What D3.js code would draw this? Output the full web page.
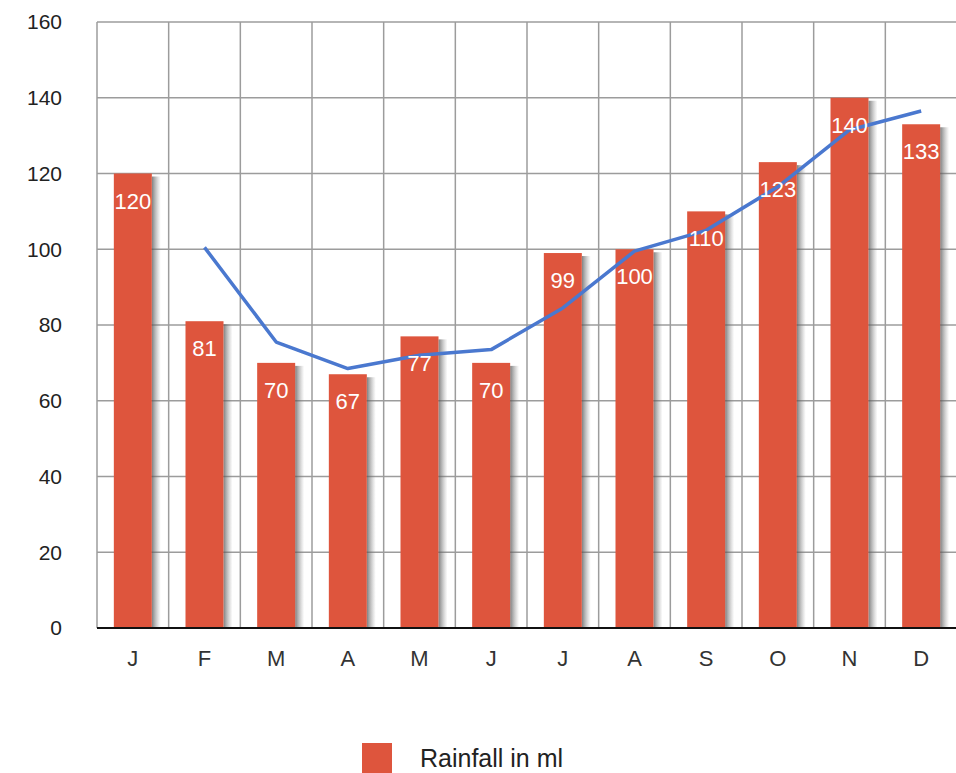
<!DOCTYPE html>
<html>
<head>
<meta charset="utf-8">
<script src="https://d3js.org/d3.v7.min.js"></script>
<style>
  body { margin: 0; background: #fff; }
  text { font-family: "Liberation Sans", Arial, sans-serif; }
</style>
</head>
<body>
<svg width="956" height="773"></svg>
<script>
// data
var months = ["J", "F", "M", "A", "M", "J", "J", "A", "S", "O", "N", "D"];
var rainfall = [120, 81, 70, 67, 77, 70, 99, 100, 110, 123, 140, 133];
// blue trend line, starts at February
var trend = [null, 100.5, 75.5, 68.5, 72, 73.5, 84.5, 99.5, 105, 116.5, 131.5, 136.5];
var yTicks = [0, 20, 40, 60, 80, 100, 120, 140, 160];

var svg = d3.select("svg");
var plotLeft = 97, plotRight = 957, plotTop = 22, plotBottom = 628;

var x = d3.scaleBand().domain(d3.range(months.length)).range([plotLeft, plotRight]);
var y = d3.scaleLinear().domain([0, 160]).range([plotBottom, plotTop]);
var barW = 38;

// shadow gradient
var defs = svg.append("defs");
var g1 = defs.append("linearGradient").attr("id", "shad");
g1.append("stop").attr("offset", "0%").attr("stop-color", "#555").attr("stop-opacity", 0.75);
g1.append("stop").attr("offset", "100%").attr("stop-color", "#888").attr("stop-opacity", 0);

//grid
var grid = svg.append("g");
grid.selectAll("line.h").data(yTicks.filter(function(d){return d > 0})).enter().append("line")
  .attr("x1", plotLeft).attr("x2", plotRight)
  .attr("y1", function(d){return y(d)}).attr("y2", function(d){return y(d)})
  .style("stroke", "#9c9c9c").style("stroke-width", 1.5);
grid.selectAll("line.v").data(d3.range(months.length + 1)).enter().append("line")
  .attr("x1", function(i){return plotLeft + i * x.bandwidth()})
  .attr("x2", function(i){return plotLeft + i * x.bandwidth()})
  .attr("y1", plotTop).attr("y2", plotBottom)
  .style("stroke", "#9c9c9c").style("stroke-width", 1.5);

// y labels
svg.append("g").selectAll("text").data(yTicks).enter().append("text")
  .attr("x", 62).attr("y", function(d){return y(d)})
  .attr("dy", "0.35em")
  .style("text-anchor", "end").style("font-size", "21px").style("fill", "#222")
  .text(function(d){return d});

// bars
var bars = svg.append("g");
bars.selectAll("rect.s").data(rainfall).enter().append("rect")
  .attr("x", function(d, i){return x(i) + x.bandwidth()/2 + barW/2})
  .attr("y", function(d){return y(d) + 3})
  .attr("width", 9)
  .attr("height", function(d){return plotBottom - y(d) - 3})
  .attr("fill", "url(#shad)");
bars.selectAll("rect.b").data(rainfall).enter().append("rect")
  .attr("x", function(d, i){return x(i) + x.bandwidth()/2 - barW/2})
  .attr("y", function(d){return y(d)})
  .attr("width", barW)
  .attr("height", function(d){return plotBottom - y(d)})
  .attr("fill", "#de553d");

// axis line
svg.append("line").attr("x1", plotLeft).attr("x2", plotRight)
  .attr("y1", plotBottom).attr("y2", plotBottom)
  .style("stroke", "#111").style("stroke-width", 2);

// x labels
svg.append("g").selectAll("text").data(months).enter().append("text")
  .attr("x", function(d, i){return x(i) + x.bandwidth()/2})
  .attr("y", 666)
  .style("text-anchor", "middle").style("font-size", "22px").style("fill", "#333")
  .text(function(d){return d});

// trend line
var line = d3.line()
  .defined(function(d){return d != null})
  .x(function(d, i){return x(i) + x.bandwidth()/2})
  .y(function(d){return y(d)});
svg.append("path").datum(trend)
  .attr("d", line)
  .style("fill", "none").style("stroke", "#4a78cf").style("stroke-width", 3.5)
  .style("stroke-linejoin", "round");

// value labels
svg.append("g").selectAll("text").data(rainfall).enter().append("text")
  .attr("x", function(d, i){return x(i) + x.bandwidth()/2})
  .attr("y", function(d){return y(d) + 35})
  .style("text-anchor", "middle").style("font-size", "22px").style("fill", "#fff")
  .text(function(d){return d});

// legend
svg.append("rect").attr("x", 362).attr("y", 743).attr("width", 30).attr("height", 30).attr("fill", "#de553d");
svg.append("text").attr("x", 420).attr("y", 767)
  .style("font-size", "25px").style("fill", "#222")
  .text("Rainfall in ml");
</script>
</body>
</html>
